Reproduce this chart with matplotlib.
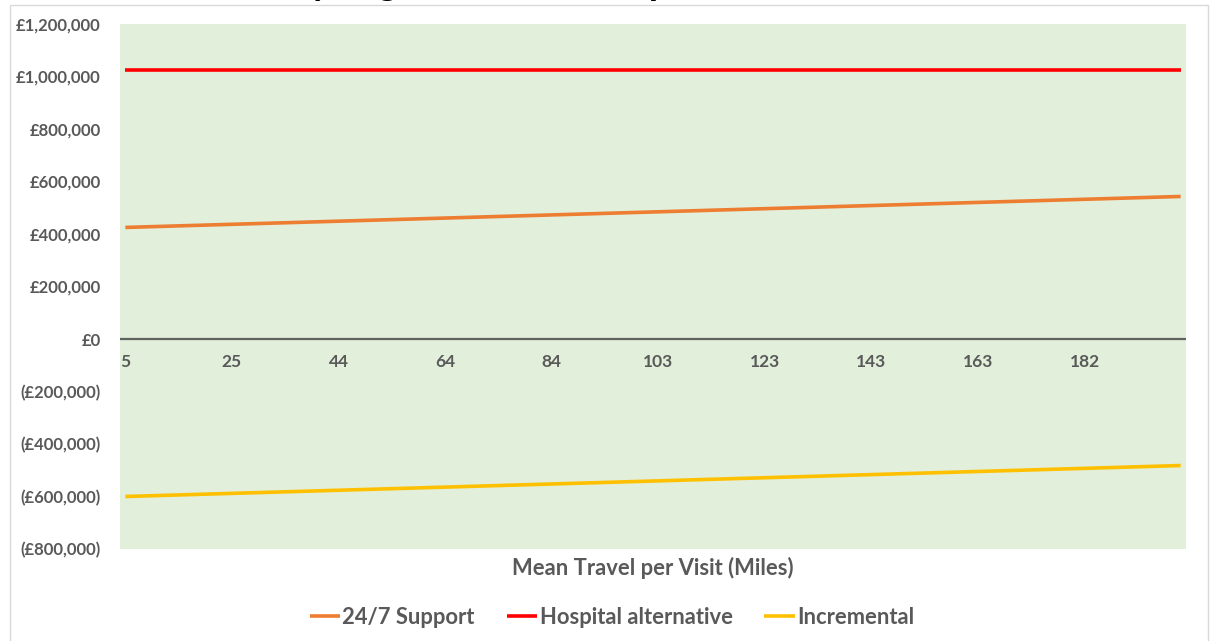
import numpy as np
import matplotlib.pyplot as plt
from matplotlib.patches import Rectangle
from matplotlib.ticker import FuncFormatter

# category axis: 100 travel distances, every 10th one labelled
n_categories = 100
tick_labels = ["5", "25", "44", "64", "84", "103", "123", "143", "163", "182"]

# straight lines -> start (first category) and end (last category) values
series_names = ["24/7 Support", "Hospital alternative", "Incremental"]
support_247 = [425000, 543000]
hospital_alt = [1025000, 1025000]
incremental = [-600000, -482000]
series_colors = ["#ED7D31", "#FF0000", "#FFC000"]

title = "Cost Model Analysing Travel Cost Impact on Net Benefit"

plt.rcParams['font.family'] = ['Lato', 'DejaVu Sans']
grey = "#595959"

fig = plt.figure(figsize=(12.11, 6.41), dpi=100)
W, H = 1211, 641
# outer chart border
fig.patches.append(Rectangle((10 / W, -0.01), 1198 / W, 1 - 5 / H + 0.01,
                             transform=fig.transFigure, fill=False,
                             edgecolor="#D9D9D9", lw=1))
ax = fig.add_axes([120 / W, 1 - 549 / H, (1186 - 120) / W, (549 - 24) / H])
ax.set_facecolor("#E2EFDA")

ends = [0, n_categories - 1]
for vals, name, c in zip([support_247, hospital_alt, incremental], series_names, series_colors):
    ax.plot(ends, vals, color=c, lw=2.6, label=name, solid_capstyle='butt')

ax.axhline(0, color="#5E635E", lw=1.6, zorder=1)

ax.set_xlim(-0.5, n_categories - 0.5)
ax.set_ylim(-800000, 1200000)
ax.set_yticks(np.arange(-800000, 1200001, 200000))
ax.yaxis.set_major_formatter(FuncFormatter(
    lambda v, p: f"£{v:,.0f}" if v >= 0 else f"(£{-v:,.0f})"))
ax.tick_params(axis='y', length=0, pad=14, labelcolor=grey)
for t in ax.get_yticklabels():
    t.set_fontweight('bold')
    t.set_fontsize(12)
ax.set_xticks([])
for s in ax.spines.values():
    s.set_visible(False)

for i, lab in enumerate(tick_labels):
    ax.annotate(lab, (i * 10, 0), xytext=(0, -10.5), textcoords='offset points',
                ha='center', va='top', fontsize=12.5, fontweight='bold', color=grey)

fig.text((120 + 1186) / 2 / W, 1 - 568 / H, "Mean Travel per Visit (Miles)",
         ha='center', va='center', fontsize=15.8, fontweight='bold', color=grey)

# title sits mostly above the picture: only its descenders show
fig.text(33 / W, 1 + 5 / H, title, ha='left', va='baseline',
         fontsize=27, fontweight='bold', color='black')

leg = fig.legend(loc='center', bbox_to_anchor=(612 / W, 1 - 617 / H), ncol=3,
                 frameon=False, handlelength=1.4, handletextpad=0.1,
                 columnspacing=1.45, prop={'weight': 'bold', 'size': 15.8})
for t in leg.get_texts():
    t.set_color(grey)

fig.savefig("out.png", dpi=100)
